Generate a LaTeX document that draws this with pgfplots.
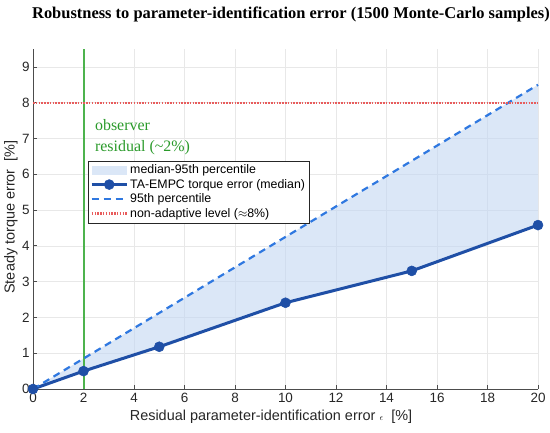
\documentclass[border=0pt]{standalone}
\usepackage{pgfplots}
\pgfplotsset{compat=1.18}
\usepackage{fontspec}
\setmainfont{Liberation Sans}
\newfontfamily\seriffont{Liberation Serif}
\definecolor{medc}{RGB}{31,79,166}
\definecolor{p95c}{RGB}{47,120,224}
\definecolor{fillc}{RGB}{195,215,242}
\definecolor{myred}{RGB}{232,92,92}
\definecolor{mygreen}{RGB}{77,179,77}
\definecolor{grntxt}{RGB}{42,154,42}
\begin{document}
\begin{tikzpicture}
\useasboundingbox (-33bp,-44bp) rectangle (517bp,389bp);
\begin{axis}[
  scale only axis, width=505bp, height=340bp,
  xmin=0, xmax=20, ymin=0, ymax=9.5,
  xtick={0,2,...,20}, ytick={0,1,...,9},
  axis x line*=bottom, axis y line*=left,
  axis line style={-, draw=black!70, line width=0.9pt},
  tick align=inside, major tick length=4bp,
  major tick style={draw=black!70, line width=0.7pt},
  grid=major, major grid style={draw=black!9, line width=0.6pt},
  ticklabel style={font=\fontsize{13.5}{15}\selectfont, text=black!85},
  /pgf/number format/assume math mode=true,
  xticklabel style={yshift=-0.5bp},
  clip=false,
  legend cell align=left,
  legend style={at={(0.109,0.672)}, anchor=north west, draw=black!85,
    font=\fontsize{12.4}{13.5}\selectfont, inner xsep=2bp, inner ysep=2.2bp, row sep=0bp},
  legend image code/.code={\draw[mark repeat=2,mark phase=2,#1] plot coordinates {(0bp,0bp)(17.5bp,0bp)(35bp,0bp)};},
]
\addplot[fill=fillc, fill opacity=0.6, draw=none, area legend,
  legend image code/.code={\fill[fillc, fill opacity=0.6] (0bp,-4.5bp) rectangle (35bp,4.5bp);}]
  coordinates {(0,0)(2,0.85)(5,2.125)(10,4.25)(15,6.375)(20,8.5)(20,4.58)(15,3.30)(10,2.41)(5,1.18)(2,0.50)(0,0)} -- cycle;
\addlegendentry{median-95th percentile}
\addplot[mygreen, line width=2bp, forget plot] coordinates {(2,0)(2,9.5)};
\addplot[medc, line width=3bp, mark=*, mark size=5bp, mark options={fill=medc, draw=medc, line width=0.5bp}]
  coordinates {(0,0)(2,0.50)(5,1.18)(10,2.41)(15,3.30)(20,4.58)};
\addlegendentry{TA-EMPC torque error (median)}
\addplot[p95c, line width=2.2bp, dash pattern=on 7bp off 5bp]
  coordinates {(0,0)(2,0.85)(5,2.125)(10,4.25)(15,6.375)(20,8.5)};
\addlegendentry{95th percentile}
\addplot[myred, line width=2.2bp, dash pattern=on 1.5bp off 1.3bp]
  coordinates {(0,8)(20,8)};
\addlegendentry{non-adaptive level (\(\approx\)8\%)}
\node[anchor=north west, align=left, text=grntxt, font=\seriffont\fontsize{16}{22}\selectfont, inner sep=0pt]
  at (axis cs:2.45,7.55) {observer\\residual (\textasciitilde2\%)};
\end{axis}
\node[anchor=base, font=\seriffont\bfseries\fontsize{16.5}{18}\selectfont] at (258bp,370bp)
  {Robustness to parameter-identification error (1500 Monte-Carlo samples)};
\node[anchor=base, font=\fontsize{14.5}{16}\selectfont, text=black!85] at (238bp,-31bp)
  {Residual parameter-identification error {\fontsize{9}{9}\selectfont$\epsilon$}\ \ [\%]};
\node[anchor=center, rotate=90, font=\fontsize{14.5}{16}\selectfont, text=black!85] at (-22bp,172bp)
  {Steady torque error\ \ [\%]};
\end{tikzpicture}
\end{document}
